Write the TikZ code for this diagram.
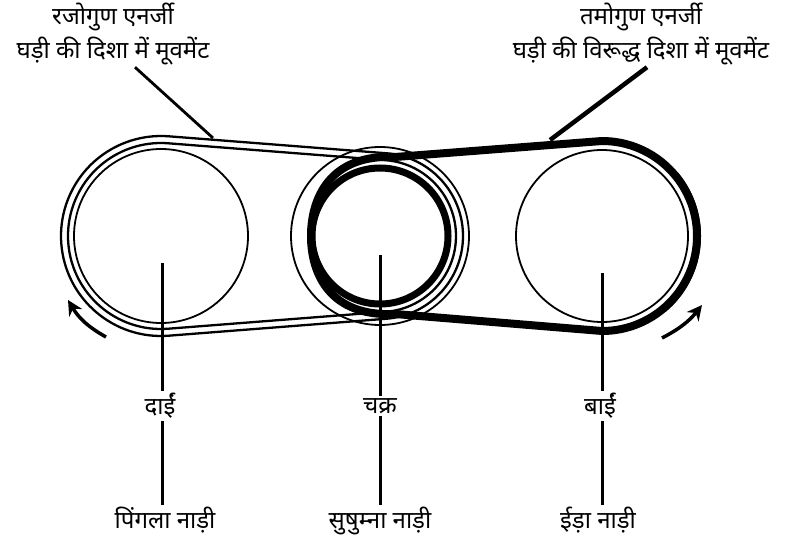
\documentclass[tikz,border=0pt]{standalone}
\usepackage{fontspec}
\newfontfamily\dev[Script=Devanagari]{Noto Sans}
\usetikzlibrary{calc,arrows.meta}
\begin{document}
\begin{tikzpicture}[x=1pt,y=1pt,
  lbl/.style={font=\dev\fontsize{24}{34}\selectfont, inner sep=2pt},
  thinring/.style={line width=1.8pt},
  beltline/.style={line width=2.3pt},
  heavy/.style={line width=8pt, line join=round},
  stem/.style={line width=3pt},
  turn/.style={line width=3.5pt,-{Stealth[length=15pt,width=15pt]}}]
\useasboundingbox (0,0) rectangle (791,539);
\coordinate (L) at (161,303);
\coordinate (M) at (380,303);
\coordinate (R) at (602,303);
% pulleys
\draw[thinring] (L) circle[radius=87];
\draw[thinring] (R) circle[radius=86];
\draw[thinring] (M) circle[radius=89];
\draw[line width=7pt] (M) circle[radius=68];
% rajoguna belt (double)
\foreach \a/\b in {93/76,100/83}{
  \draw[beltline] ($(L)+(85.55:\a)$) -- ($(M)+(85.55:\b)$)
    arc[start angle=85.55,end angle=-85.55,radius=\b]
    -- ($(L)+(-85.55:\a)$)
    arc[start angle=-85.55,end angle=-274.45,radius=\a] -- cycle;
}
% tamoguna belt (heavy)
\draw[heavy] (395,382) -- (602,398) arc[start angle=90,end angle=-90,radius=95]
  -- (395,225) .. controls (330,222) and (311,265) .. (311,303)
  .. controls (311,341) and (330,385) .. (395,382) -- cycle;
\draw[line width=4pt] (R) ++(40:97) arc[start angle=40,end angle=-50,radius=97];
% labels
\node[lbl, align=center] (raj) at (113,505) {रजोगुण एनर्जी\\घड़ी की दिशा में मूवमेंट};
\node[lbl, align=center] (tam) at (641,505) {तमोगुण एनर्जी\\घड़ी की विरूद्ध दिशा में मूवमेंट};
\coordinate (pL) at (213,401);
\coordinate (pR) at (550,399);
\draw[line width=2.8pt] ([xshift=22pt]raj.south) -- (pL);
\draw[line width=4.5pt] ([xshift=6pt]tam.south) -- (pR);
% rotation arrows
\coordinate (aL1) at (106,202);
\coordinate (aL2) at (68,239);
\coordinate (aR1) at (662,201);
\coordinate (aR2) at (702,234);
\draw[turn] (aL1) to[bend left=15] (aL2);
\draw[turn] (aR1) to[bend right=12] (aR2);
% bottom labels
\node[lbl] (dai) at (160,133) {दाईं};
\node[lbl] (chakra) at (380,133) {चक्र};
\node[lbl] (bai) at (600,133) {बाईं};
\node[lbl] (ping) at (165,19) {पिंगला नाड़ी};
\node[lbl] (sush) at (380,18) {सुषुम्ना नाड़ी};
\node[lbl] (ida) at (598,19) {ईड़ा नाड़ी};
\coordinate (sL) at (162,276);
\coordinate (sM) at (380,284);
\coordinate (sR) at (602,266);
\draw[stem] (sL) -- (sL |- dai.north);
\draw[stem] (sM) -- (sM |- chakra.north);
\draw[stem] (sR) -- (sR |- bai.north);
\draw[stem] (dai.south -| sL) -- (ping.north -| sL);
\draw[stem] (chakra.south -| sM) -- (sush.north -| sM);
\draw[stem] (bai.south -| sR) -- (ida.north -| sR);
\end{tikzpicture}
\end{document}
